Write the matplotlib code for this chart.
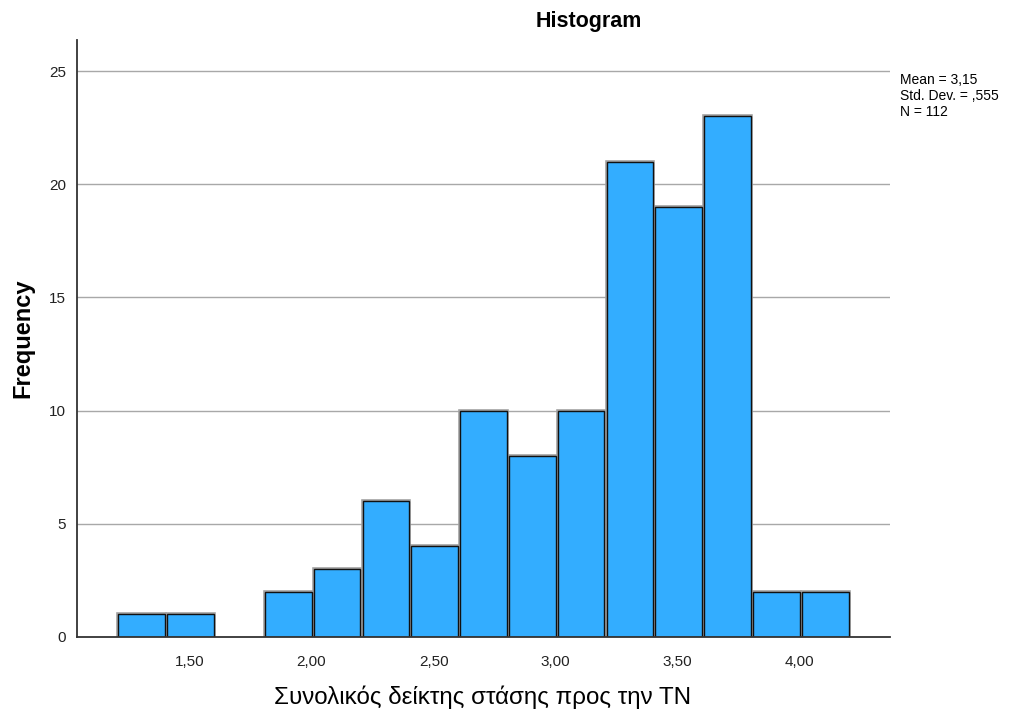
import matplotlib
matplotlib.use("Agg")
import matplotlib.pyplot as plt

plt.rcParams['font.family'] = ['Liberation Sans', 'DejaVu Sans']

bin_left = [1.2, 1.4, 1.6, 1.8, 2.0, 2.2, 2.4, 2.6, 2.8, 3.0, 3.2, 3.4, 3.6, 3.8, 4.0]
counts = [1, 1, 0, 2, 3, 6, 4, 10, 8, 10, 21, 19, 23, 2, 2]
bin_width = 0.2
xticks = [1.5, 2.0, 2.5, 3.0, 3.5, 4.0]
xtick_labels = ["1,50", "2,00", "2,50", "3,00", "3,50", "4,00"]
yticks = [0, 5, 10, 15, 20, 25]
stats_text = "Mean = 3,15\nStd. Dev. = ,555\nN = 112"

fig = plt.figure(figsize=(10.13, 7.11), dpi=100)
ax = fig.add_axes([77/1013, 1-637/711, (890-77)/1013, (637-40)/711])

for y in yticks[1:]:
    ax.axhline(y, color='#a8a8a8', lw=1, zorder=0)

gap = 0.009
xs = [b + gap for b, c in zip(bin_left, counts) if c > 0]
hs = [c for c in counts if c > 0]
w = bin_width - gap
# light grey outer outline, then black inner outline
ax.bar(xs, hs, width=w, align='edge', color='#33adff',
       edgecolor='#a0a0a0', linewidth=2.6, zorder=2)
ax.bar(xs, hs, width=w, align='edge', color='#33adff',
       edgecolor='#111111', linewidth=1.0, zorder=3)

ax.set_xlim(1.039, 4.37)
ax.set_ylim(0, 26.37)
ax.set_xticks(xticks)
ax.set_xticklabels(xtick_labels)
ax.set_yticks(yticks)
ax.tick_params(axis='both', length=0, labelsize=11, colors='#222222')
ax.tick_params(axis='x', pad=13)
ax.tick_params(axis='y', pad=8)
for s in ['top', 'right']:
    ax.spines[s].set_visible(False)
for s in ['left', 'bottom']:
    ax.spines[s].set_color('#333333')
    ax.spines[s].set_linewidth(1.3)
    ax.spines[s].set_zorder(4)

ax.set_ylabel("Frequency", fontsize=17, fontweight='bold')
ax.yaxis.set_label_coords((34-77)/813, 0.5)
fig.text(483/1013, 1-697/711, "Συνολικός δείκτης στάσης προς την ΤΝ",
         ha='center', va='center', fontsize=17.4)
fig.text(589/1013, 1-22/711, "Histogram", ha='center', va='center',
         fontsize=15.5, fontweight='bold')
fig.text(900/1013, 1-73/711, stats_text, ha='left', va='top', fontsize=10,
         linespacing=1.17)

fig.savefig("out.png", dpi=100)
